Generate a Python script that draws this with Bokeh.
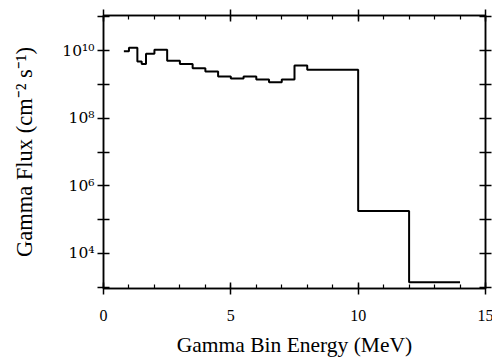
from bokeh.plotting import figure
from bokeh.models import (LinearAxis, LogAxis, FixedTicker, CustomJSTickFormatter,
                          Range1d, CustomLabelingPolicy)
from bokeh.embed import file_html
from bokeh.resources import INLINE

# ---- data ----
bin_edges = [0.8, 1.0, 1.33, 1.5, 1.67, 2.0, 2.5, 3.0, 3.5, 4.0, 4.5, 5.0,
             5.5, 6.0, 6.5, 7.0, 7.5, 8.0, 10.0, 12.0, 14.0]
flux = [9.5e9, 1.2e10, 4.7e9, 4.0e9, 8.0e9, 1.05e10, 5.0e9, 4.0e9, 3.0e9,
        2.4e9, 1.7e9, 1.5e9, 1.7e9, 1.4e9, 1.15e9, 1.4e9, 3.6e9, 2.7e9,
        1.8e5, 1.4e3]
x_major = [0, 5, 10, 15]
x_minor = list(range(0, 16))
y_labeled = [1e4, 1e6, 1e8, 1e10]
y_unlabeled = [1e3, 1e5, 1e7, 1e9, 1e11]

x_label = "Gamma Bin Energy (MeV)"
y_label = "Gamma Flux (cm\u207b\u00b2 s\u207b\u00b9)"

FONT = "Liberation Serif"
TICK_FONT = "DejaVu Serif"

p = figure(frame_width=382, frame_height=273, y_axis_type="log",
           x_range=Range1d(0, 15), y_range=Range1d(10**2.965, 10**11.035),
           output_backend="svg", toolbar_location=None,
           min_border_left=103, min_border_right=0, min_border_top=15,
           min_border_bottom=0)
p.background_fill_color = "white"
p.border_fill_color = "white"
p.outline_line_color = "black"
p.outline_line_width = 1.5
p.xgrid.visible = False
p.ygrid.visible = False

step_y = flux + [flux[-1]]
p.step(x=bin_edges, y=step_y, mode="after", line_color="black", line_width=2)

sup_js = """
const sup = {'0':'\u2070','1':'\u00b9','2':'\u00b2','3':'\u00b3','4':'\u2074',
             '5':'\u2075','6':'\u2076','7':'\u2077','8':'\u2078','9':'\u2079'};
const e = Math.round(Math.log10(tick));
return "10" + String(e).split('').map(c => sup[c]).join('');
"""

no_labels = CustomLabelingPolicy(code="""
for (let i = 0; i < indices.size; i++) { indices.unset(i) }
return indices
""")

def style_x(ax):
    ax.ticker = FixedTicker(ticks=x_major, minor_ticks=x_minor)
    ax.axis_line_color = "black"
    ax.axis_line_width = 1.5
    ax.major_tick_line_color = "black"
    ax.minor_tick_line_color = "black"
    ax.major_tick_line_width = 1.5
    ax.minor_tick_line_width = 1.2
    ax.major_tick_in = 6
    ax.major_tick_out = 6
    ax.minor_tick_in = 4
    ax.minor_tick_out = 0

def style_y(ax):
    ax.ticker = FixedTicker(ticks=y_labeled, minor_ticks=y_unlabeled)
    ax.axis_line_color = "black"
    ax.axis_line_width = 1.5
    ax.major_tick_line_color = "black"
    ax.minor_tick_line_color = "black"
    ax.major_tick_line_width = 1.5
    ax.minor_tick_line_width = 1.5
    ax.major_tick_in = 6
    ax.major_tick_out = 6
    ax.minor_tick_in = 6
    ax.minor_tick_out = 6

# bottom x axis
xa = p.xaxis[0]
style_x(xa)
xa.axis_label = x_label
xa.axis_label_text_font = FONT
xa.axis_label_text_font_style = "normal"
xa.axis_label_text_font_size = "21.5px"
xa.axis_label_text_color = "black"
xa.axis_label_standoff = 9
xa.major_label_text_font = FONT
xa.major_label_text_font_size = "16px"
xa.major_label_text_color = "black"
xa.major_label_standoff = 15

# left y axis
ya = p.yaxis[0]
style_y(ya)
ya.formatter = CustomJSTickFormatter(code=sup_js)
ya.axis_label = y_label
ya.axis_label_text_font = FONT
ya.axis_label_text_font_style = "normal"
ya.axis_label_text_font_size = "22.5px"
ya.axis_label_text_color = "black"
ya.axis_label_standoff = 22
ya.major_label_text_font = TICK_FONT
ya.major_label_text_font_size = "15.5px"
ya.major_label_text_color = "black"
ya.major_label_standoff = 3

# top axis (ticks only)
top = LinearAxis()
style_x(top)
top.major_label_policy = no_labels
top.major_label_text_font_size = "1px"
top.major_label_standoff = 0
top.axis_label_standoff = 0
p.add_layout(top, "above")

# right axis (ticks only)
right = LogAxis()
style_y(right)
right.major_label_policy = no_labels
right.major_label_text_font_size = "1px"
right.major_label_standoff = 0
right.axis_label_standoff = 0
p.add_layout(right, "right")

open("out.html", "w").write(file_html(p, INLINE))
